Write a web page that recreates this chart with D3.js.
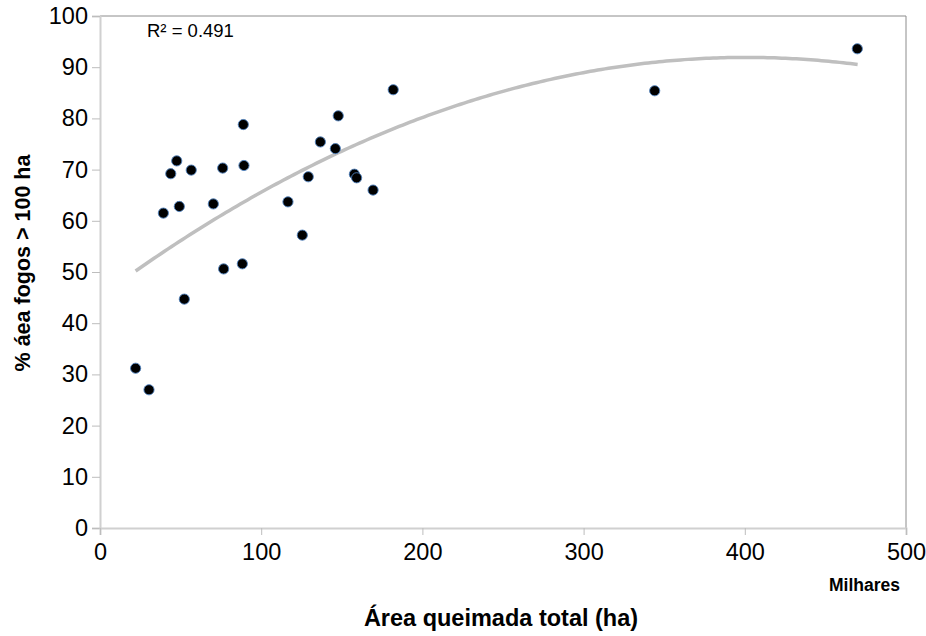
<!DOCTYPE html>
<html>
<head>
<meta charset="utf-8">
<script src="https://cdn.jsdelivr.net/npm/d3@7"></script>
<style>
  html, body { margin: 0; padding: 0; background: #fff; }
  svg { display: block; font-family: Arial, "Liberation Sans", sans-serif; }
</style>
</head>
<body>
<svg id="chart" width="926" height="636"></svg>
<script>
// Data: total burned area (thousands ha) vs % area of fires > 100 ha
const areaTotal = [22.1, 30.4, 39.3, 43.9, 47.6, 49.2, 52.3, 56.6, 70.3, 76.1, 76.7, 88.3, 88.9, 89.3,
                   116.6, 125.5, 129.2, 136.7, 146.0, 147.8, 157.8, 159.2, 169.4, 181.9, 344.1, 469.8];
const pctLarge  = [31.2, 27.0, 61.5, 69.2, 71.7, 62.8, 44.7, 69.9, 63.3, 70.3, 50.6, 51.6, 78.8, 70.8,
                   63.7, 57.2, 68.6, 75.4, 74.1, 80.5, 69.1, 68.4, 66.0, 85.6, 85.4, 93.6];
// Polynomial (order 2) trendline as shown: y = c0 + c1*x + c2*x^2
const trendCoef = [45.19, 0.2330, -0.0002905];
const trendRange = [22.1, 470];
const rSquaredLabel = "R² = 0.491";
const xTicks = [0, 100, 200, 300, 400, 500];
const yTicks = [0, 10, 20, 30, 40, 50, 60, 70, 80, 90, 100];
const xTitle = "Área queimada total (ha)";
const yTitle = "% áea fogos > 100 ha";
const xUnit = "Milhares";

const svg = d3.select("#chart");
const L = 100, R = 906, T = 16, B = 528;
const x = d3.scaleLinear().domain([0, 500]).range([L, R]);
const y = d3.scaleLinear().domain([0, 100]).range([B, T]);

// Top & right borders
svg.append("path")
  .attr("d", `M${L},${T}H${R}V${B}`)
  .attr("fill", "none").attr("stroke", "#8c8c8c").attr("stroke-width", 1);

// Y axis
const yAxis = svg.append("g").attr("transform", `translate(${L},0)`)
  .call(d3.axisLeft(y).tickValues(yTicks).tickSize(8).tickPadding(4));
yAxis.select(".domain").attr("stroke", "#d0d0d0").attr("stroke-width", 2);
yAxis.selectAll(".tick line").attr("stroke", "#bdbdbd");
yAxis.selectAll(".tick text").attr("font-size", 23.5).attr("fill", "#000")
  .attr("font-family", "Arial, 'Liberation Sans', sans-serif");

// X axis
const xAxis = svg.append("g").attr("transform", `translate(0,${B})`)
  .call(d3.axisBottom(x).tickValues(xTicks).tickSize(7).tickPadding(8));
xAxis.select(".domain").attr("stroke", "#d0d0d0").attr("stroke-width", 2);
xAxis.selectAll(".tick line").attr("stroke", "#bdbdbd");
xAxis.selectAll(".tick text").attr("font-size", 23.5).attr("fill", "#000")
  .attr("font-family", "Arial, 'Liberation Sans', sans-serif");

// Trendline
const trendX = d3.range(trendRange[0], trendRange[1] + 0.001, (trendRange[1] - trendRange[0]) / 200);
const line = d3.line()
  .x(d => x(d))
  .y(d => y(trendCoef[0] + trendCoef[1] * d + trendCoef[2] * d * d));
svg.append("path").datum(trendX)
  .attr("d", line)
  .attr("fill", "none").attr("stroke", "#bfbfbf").attr("stroke-width", 3.5);

// Points
svg.append("g").selectAll("circle")
  .data(areaTotal.map((v, i) => [v, pctLarge[i]]))
  .join("circle")
  .attr("cx", d => x(d[0])).attr("cy", d => y(d[1]))
  .attr("r", 5.1)
  .attr("fill", "#000").attr("stroke", "#4f81bd").attr("stroke-width", 0.9);

// R² label
svg.append("text").attr("x", 147).attr("y", 37)
  .attr("font-size", 18.5).attr("fill", "#000").text(rSquaredLabel);

// Units label
svg.append("text").attr("x", 900).attr("y", 591).attr("text-anchor", "end")
  .attr("font-size", 17.5).attr("font-weight", "bold").text(xUnit);

// Axis titles
svg.append("text").attr("x", 501).attr("y", 626).attr("text-anchor", "middle")
  .attr("font-size", 23.5).attr("font-weight", "bold").text(xTitle);

svg.append("text").attr("transform", "translate(30,263) rotate(-90)")
  .attr("text-anchor", "middle")
  .attr("font-size", 21.5).attr("font-weight", "bold").text(yTitle);
</script>
</body>
</html>
